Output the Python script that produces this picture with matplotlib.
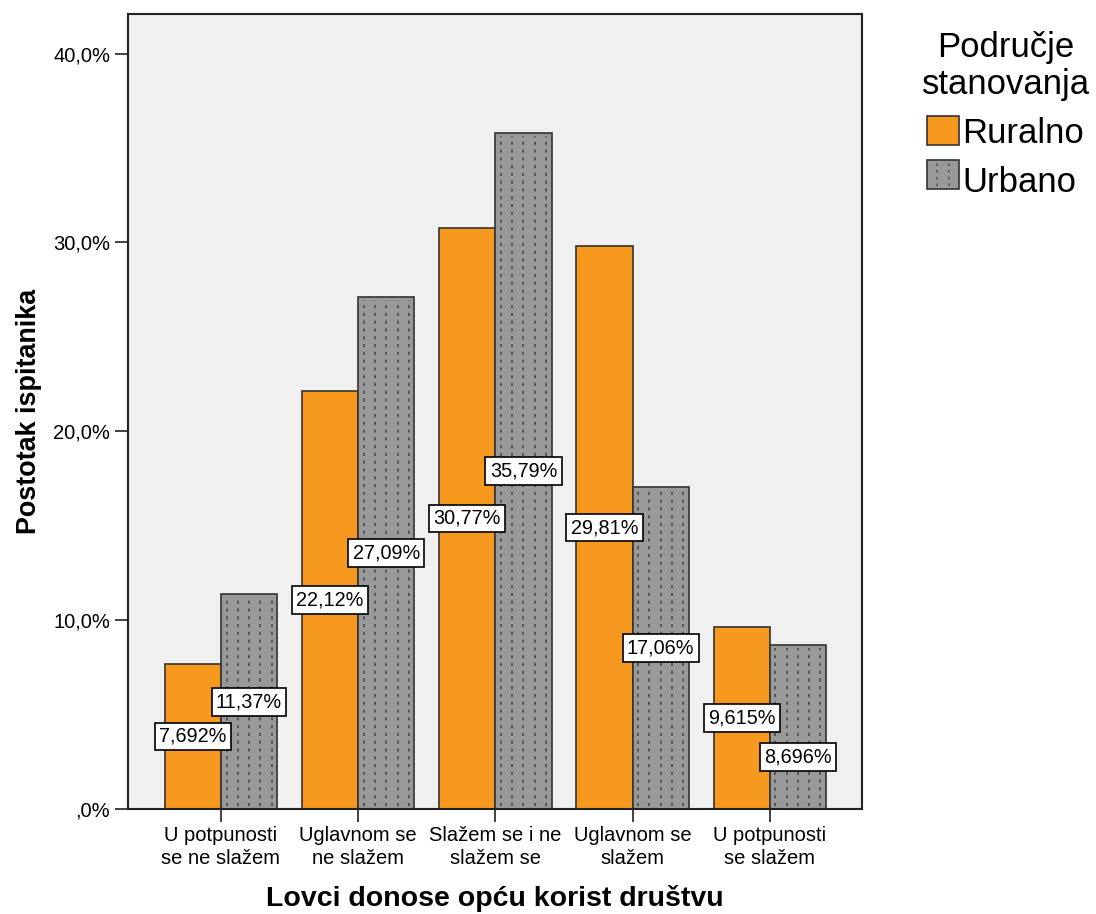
import numpy as np
import matplotlib
matplotlib.use("Agg")
import matplotlib.pyplot as plt
from matplotlib.patches import Rectangle
from matplotlib.lines import Line2D

# data
categories = ["U potpunosti\nse ne slažem", "Uglavnom se\nne slažem", "Slažem se i ne\nslažem se",
              "Uglavnom se\nslažem", "U potpunosti\nse slažem"]
ruralno = [7.692, 22.12, 30.77, 29.81, 9.615]
urbano = [11.37, 27.09, 35.79, 17.06, 8.696]
rural_labels = ["7,692%", "22,12%", "30,77%", "29,81%", "9,615%"]
urban_labels = ["11,37%", "27,09%", "35,79%", "17,06%", "8,696%"]
yticks = [0, 10, 20, 30, 40]
ytick_labels = [",0%", "10,0%", "20,0%", "30,0%", "40,0%"]

ORANGE = "#F7991E"
GRAY = "#999999"
EDGE = "#333333"
DOT = "#555555"

plt.rcParams['font.family'] = ['Liberation Sans', 'DejaVu Sans']


class DottedPatchHandler:
    # legend handle: gray square with dotted vertical lines
    def legend_artist(self, legend, orig_handle, fontsize, handlebox):
        x0, y0 = handlebox.xdescent, handlebox.ydescent
        w, h = handlebox.width, handlebox.height
        rect = Rectangle((x0, y0), w, h, facecolor=GRAY, edgecolor=EDGE, lw=1.2,
                         transform=handlebox.get_transform())
        handlebox.add_artist(rect)
        for f in (0.3, 0.7):
            ln = Line2D([x0 + w * f, x0 + w * f], [y0 + 2, y0 + h - 2], color=DOT, lw=1.2,
                        linestyle=(0, (1.5, 2.5)), transform=handlebox.get_transform())
            handlebox.add_artist(ln)
        return rect


def plot():
    fig = plt.figure(figsize=(10.96, 9.14), dpi=100)
    ax = fig.add_axes([128 / 1096, 105 / 914, 734 / 1096, 795 / 914])
    ax.set_facecolor("#F0F0F0")

    x = np.arange(len(categories))
    w = 0.41
    ax.bar(x - w / 2, ruralno, w, color=ORANGE, edgecolor=EDGE, lw=1.2, zorder=2)
    ax.bar(x + w / 2, urbano, w, color=GRAY, edgecolor=EDGE, lw=1.2, zorder=2)

    # dotted pattern on urban bars
    for xi, v in zip(x + w / 2, urbano):
        for k in range(5):
            xx = xi - w / 2 + w * (k + 0.5) / 5
            ax.vlines(xx, 0.15, v - 0.15, color=DOT, lw=1.4, linestyles=[(0, (1.6, 2.4))], zorder=3)

    # value labels at half height, urban one moved down when they collide
    box = dict(boxstyle="square,pad=0.22", facecolor="white", edgecolor="black", lw=1.2)
    for i in range(len(categories)):
        ry = ruralno[i] / 2
        uy = urbano[i] / 2
        if abs(uy - ry) < 1.5:
            uy = ry - 2.05
        ax.text(x[i] - w / 2, ry, rural_labels[i], ha="center", va="center", fontsize=14.3,
                bbox=box, zorder=5)
        ax.text(x[i] + w / 2, uy, urban_labels[i], ha="center", va="center", fontsize=14.3,
                bbox=box, zorder=5)

    ax.set_xlim(-0.677, 4.672)
    ax.set_ylim(0, 42.1)
    ax.set_xticks(x)
    ax.set_xticklabels(categories, fontsize=14.5, linespacing=1.25)
    ax.set_yticks(yticks)
    ax.set_yticklabels(ytick_labels, fontsize=14.5)
    ax.tick_params(axis="both", length=9.4, width=1.2, color="#222222")
    ax.tick_params(axis="x", pad=3)
    for s in ax.spines.values():
        s.set_linewidth(1.5)
        s.set_color("#222222")

    ax.set_ylabel("Postotak ispitanika", fontsize=19.4, fontweight="bold", labelpad=8)
    ax.set_xlabel("Lovci donose opću korist društvu", fontsize=20.5, fontweight="bold", labelpad=12)

    # legend title drawn separately so the gap below it can be set
    fig.text(1006 / 1096, 1 - 66 / 914, "Područje\nstanovanja", fontsize=25, ha="center",
             va="center", linespacing=1.12)
    ruro = Rectangle((0, 0), 1, 1, facecolor=ORANGE, edgecolor=EDGE, lw=1.2)
    fig.legend([ruro, "dotted"], ["Ruralno", "Urbano"], fontsize=25,
               loc="upper left", bbox_to_anchor=(927 / 1096, 1 - 116 / 914),
               frameon=False, handlelength=0.92, handleheight=0.92, handletextpad=0.1,
               labelspacing=0.45, borderpad=0, borderaxespad=0,
               handler_map={str: DottedPatchHandler()})

    fig.savefig("out.png", dpi=100)


if __name__ == "__main__":
    plot()
